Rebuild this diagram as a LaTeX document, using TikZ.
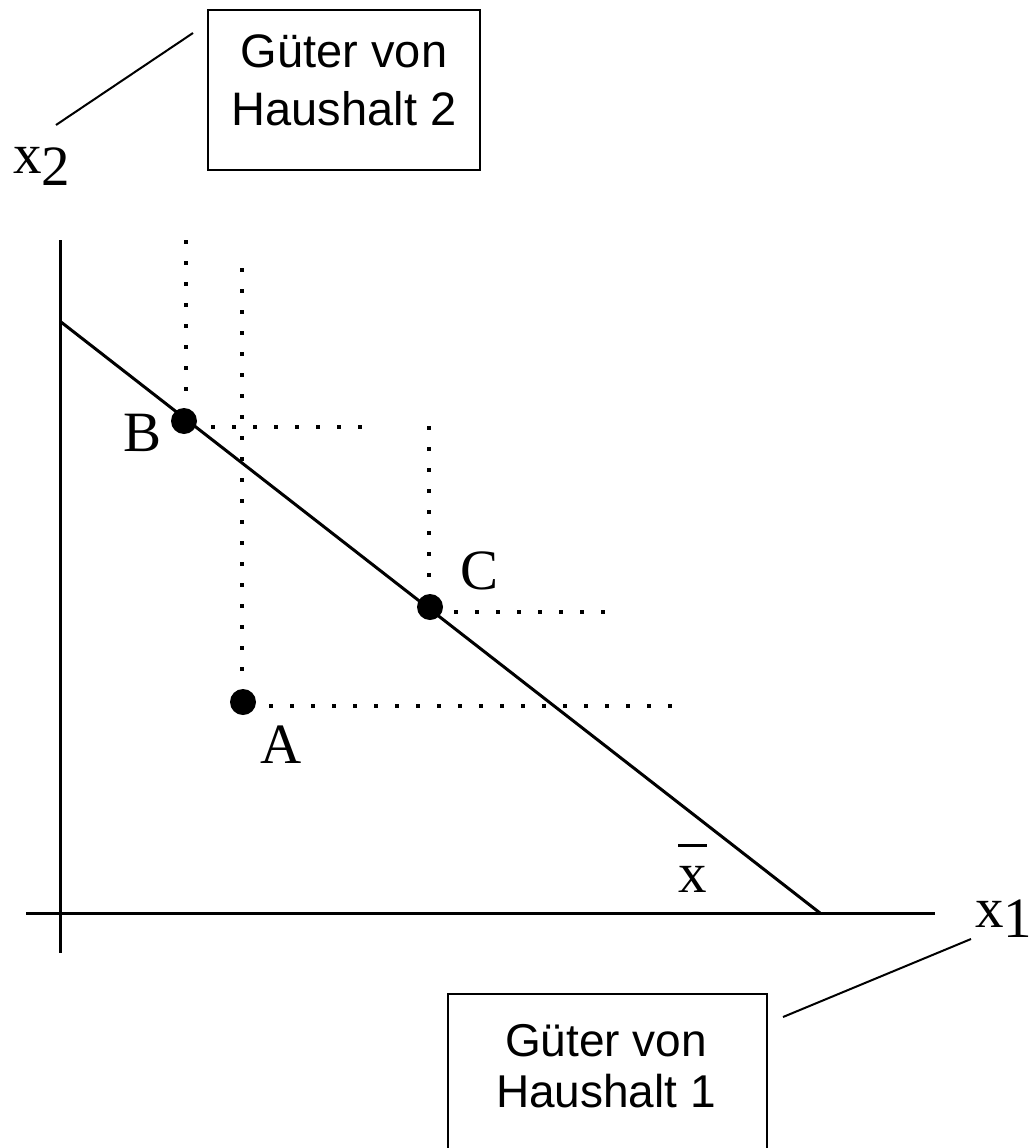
\documentclass[tikz,border=0pt]{standalone}
\usepackage{fontspec}
\setmainfont{Liberation Serif}
\newfontfamily\boxfont{Liberation Sans}
\usetikzlibrary{positioning}

\tikzset{
  axis/.style={line width=3pt},
  budget/.style={line width=3pt},
  guide/.style={line width=4pt, dash pattern=on 4pt off 17pt},
  dotpt/.style={circle, fill=black, inner sep=0pt, minimum size=26pt},
  lab/.style={font=\fontsize{57}{60}\selectfont, inner sep=0pt, anchor=base west},
  gbox/.style={draw, line width=2pt, inner sep=0pt},
  gtext/.style={font=\boxfont\fontsize{47}{58}\selectfont, align=center, inner sep=0pt},
  lead/.style={line width=2pt},
}

\begin{document}
\begin{tikzpicture}[x=1pt,y=-1pt]
\useasboundingbox (0,0) rectangle (1033,1148);
% axes and budget line
\coordinate (xleft) at (26,913);
\coordinate (xright) at (935,913);
\coordinate (ytop) at (60,240);
\coordinate (ybot) at (60,953);
\coordinate (bstart) at (61,322);
\coordinate (bend) at (820,913);
\draw[axis] (xleft) -- (xright);
\draw[axis] (ytop) -- (ybot);
\draw[budget] (bstart) -- (bend);
% points
\node[dotpt] (B) at (184,421) {};
\node[dotpt] (C) at (430,607) {};
\node[dotpt] (A) at (243,702) {};
\node[lab] (Blab) at (123,451) {B};
\node[lab] (Clab) at (460,589) {C};
\node[lab] (Alab) at (260,763) {A};
% dotted guides
\coordinate (Bvt) at (186,240);
\coordinate (Bvb) at (186,395);
\coordinate (Bhl) at (211,427);
\coordinate (Bhr) at (364,427);
\coordinate (Avt) at (242,268);
\coordinate (Avb) at (242,675);
\coordinate (Ahl) at (269,706);
\coordinate (Ahr) at (674,706);
\coordinate (Cvt) at (429,426);
\coordinate (Cvb) at (429,579);
\coordinate (Chl) at (454,612);
\coordinate (Chr) at (608,612);
\draw[guide] (Bvt) -- (Bvb);
\draw[guide] (Bhl) -- (Bhr);
\draw[guide] (Avt) -- (Avb);
\draw[guide] (Ahl) -- (Ahr);
\draw[guide] (Cvt) -- (Cvb);
\draw[guide] (Chl) -- (Chr);
% axis labels
\node[lab] (xtwo) at (13,173) {x\raisebox{-12pt}{2}};
\node[lab] (xone) at (975,927) {x\raisebox{-10pt}{1}};
\node[lab] (xbar) at (678,892) {x};
\draw[line width=3pt] ([yshift=20pt]xbar.north west) -- ([yshift=20pt]xbar.north east);
% boxes
\node[gbox, minimum width=272pt, minimum height=160pt] (box2) at (344,90) {};
\node[gtext] (box2txt) at (344,80) {Güter von\\Haushalt 2};
\node[gbox, minimum width=319pt, minimum height=160pt, anchor=north] (box1) at (607.5,993) {};
\node[gtext, font=\boxfont\fontsize{46}{51}\selectfont] (box1txt) at (606,1066) {Güter von\\Haushalt 1};
% leader lines
\coordinate (lead2a) at (56,125);
\coordinate (lead2b) at (193,33);
\coordinate (lead1a) at (783,1017);
\coordinate (lead1b) at (971,939);
\draw[lead] (lead2a) -- (lead2b);
\draw[lead] (lead1a) -- (lead1b);
\end{tikzpicture}
\end{document}
